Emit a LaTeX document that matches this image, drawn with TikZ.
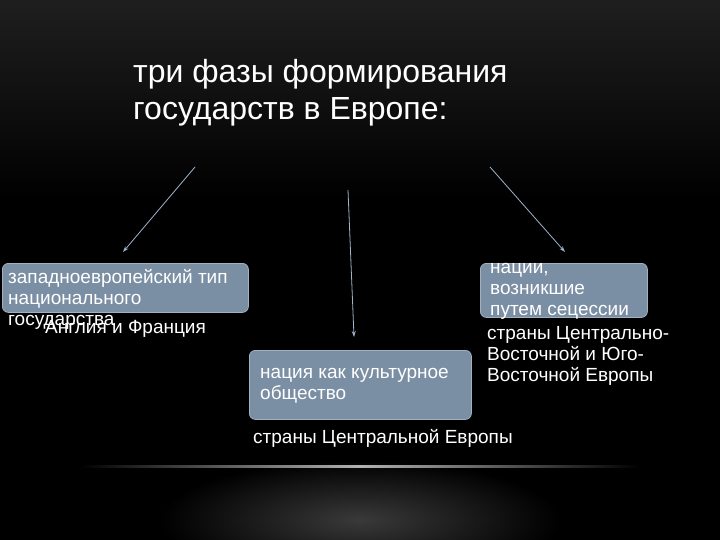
\documentclass[tikz,border=0pt]{standalone}
\usepackage{fontspec}
\setmainfont{Liberation Sans}
\usetikzlibrary{arrows.meta}
\definecolor{boxc}{HTML}{7A8EA4}
\definecolor{arrc}{HTML}{9FB4CC}
\tikzset{
  bx/.style={draw=boxc!70!white, line width=0.8pt, fill=boxc, rounded corners=6pt},
  txt/.style={text=white, font=\fontsize{19}{21}\selectfont, anchor=west, inner sep=0pt, align=left},
  arr/.style={draw=arrc, line width=0.8pt, -{Stealth[length=6pt,width=4pt]}}
}
\begin{document}
\begin{tikzpicture}[x=1pt,y=-1pt]
\useasboundingbox (0,0) rectangle (720,540);
\shade[top color=black!88!white, bottom color=black] (0,0) rectangle (720,200);
\fill[black] (0,200) rectangle (720,540);
\shade[inner color=gray!45!black, outer color=black] (360,520) ellipse (200 and 60);
\fill[black] (0,440) rectangle (720,462);
\shade[left color=black, right color=black, middle color=gray!60] (80,465) rectangle (640,467);
\node[txt, font=\fontsize{32}{37}\selectfont] (title) at (133,93) {три фазы формирования\\государств в Европе:};
\node[bx, minimum width=246, minimum height=49, anchor=north west] (b1) at (2,263) {};
\node[bx, minimum width=222, minimum height=69, anchor=north west] (b2) at (249,350) {};
\node[bx, minimum width=167, minimum height=54, anchor=north west] (b3) at (480,263) {};
\node[txt] (t1) at (8,299) {западноевропейский тип\\национального\\государства};
\node[txt] (t1b) at (45,329) {Англия и Франция};
\node[txt] (t2) at (260,386) {нация как культурное\\общество};
\node[txt] (t2b) at (253,438) {страны Центральной Европы};
\node[txt] (t3) at (490,291) {нации,\\возникшие\\путем сецессии};
\node[txt] (t3b) at (487,356) {страны Центрально-\\Восточной и Юго-\\Восточной Европы};
\coordinate (s1) at (195,167); \coordinate (e1) at (123,252);
\coordinate (s2) at (348,190); \coordinate (e2) at (354,337);
\coordinate (s3) at (490,167); \coordinate (e3) at (565,252);
\draw[arr] (s1) -- (e1);
\draw[arr] (s2) -- (e2);
\draw[arr] (s3) -- (e3);
\end{tikzpicture}
\end{document}
